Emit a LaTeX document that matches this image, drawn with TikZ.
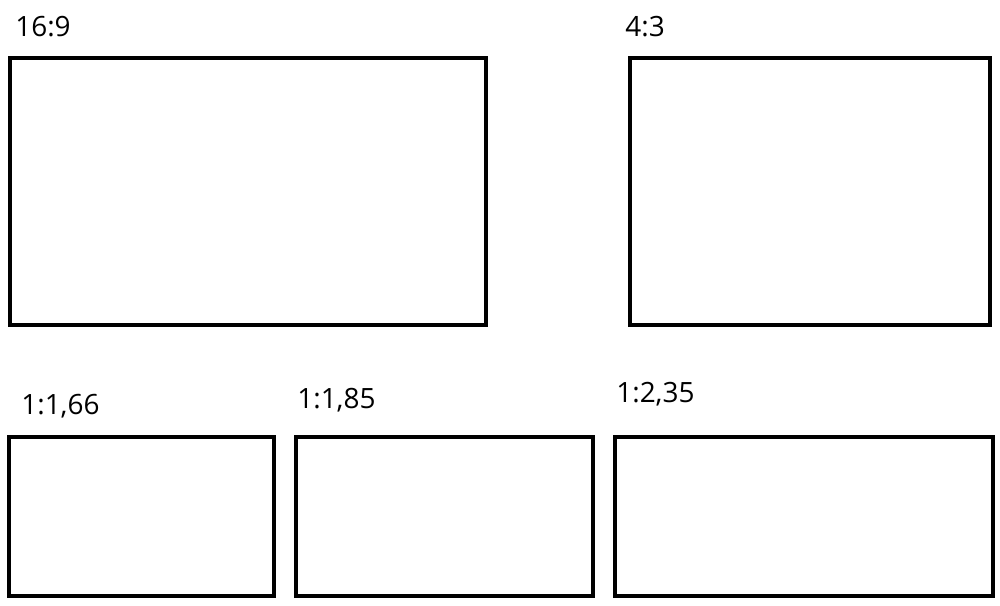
\documentclass[tikz,border=0pt]{standalone}
\usepackage{fontspec}
\setmainfont{Open Sans}
\begin{document}
\begin{tikzpicture}[x=0.02cm,y=-0.02cm,
  frame/.style={draw=black,line width=0.066cm},
  lbl/.style={anchor=base west,inner sep=0pt,font=\fontsize{15.9pt}{18pt}\selectfont}]
\useasboundingbox (0,0) rectangle (1000,605);
\draw[frame] (10,58) rectangle (486,325);
\draw[frame] (630,58) rectangle (990,325);
\draw[frame] (9,437) rectangle (274,596);
\draw[frame] (296,437) rectangle (593,596);
\draw[frame] (615,437) rectangle (993,596);
\node[lbl] (t1) at (15,36.5) {16:9};
\node[lbl] (t2) at (625,36.5) {4:3};
\node[lbl] (t3) at (21,414.5) {1:1,66};
\node[lbl] (t4) at (297,408) {1:1,85};
\node[lbl] (t5) at (616,402.5) {1:2,35};
\end{tikzpicture}
\end{document}
